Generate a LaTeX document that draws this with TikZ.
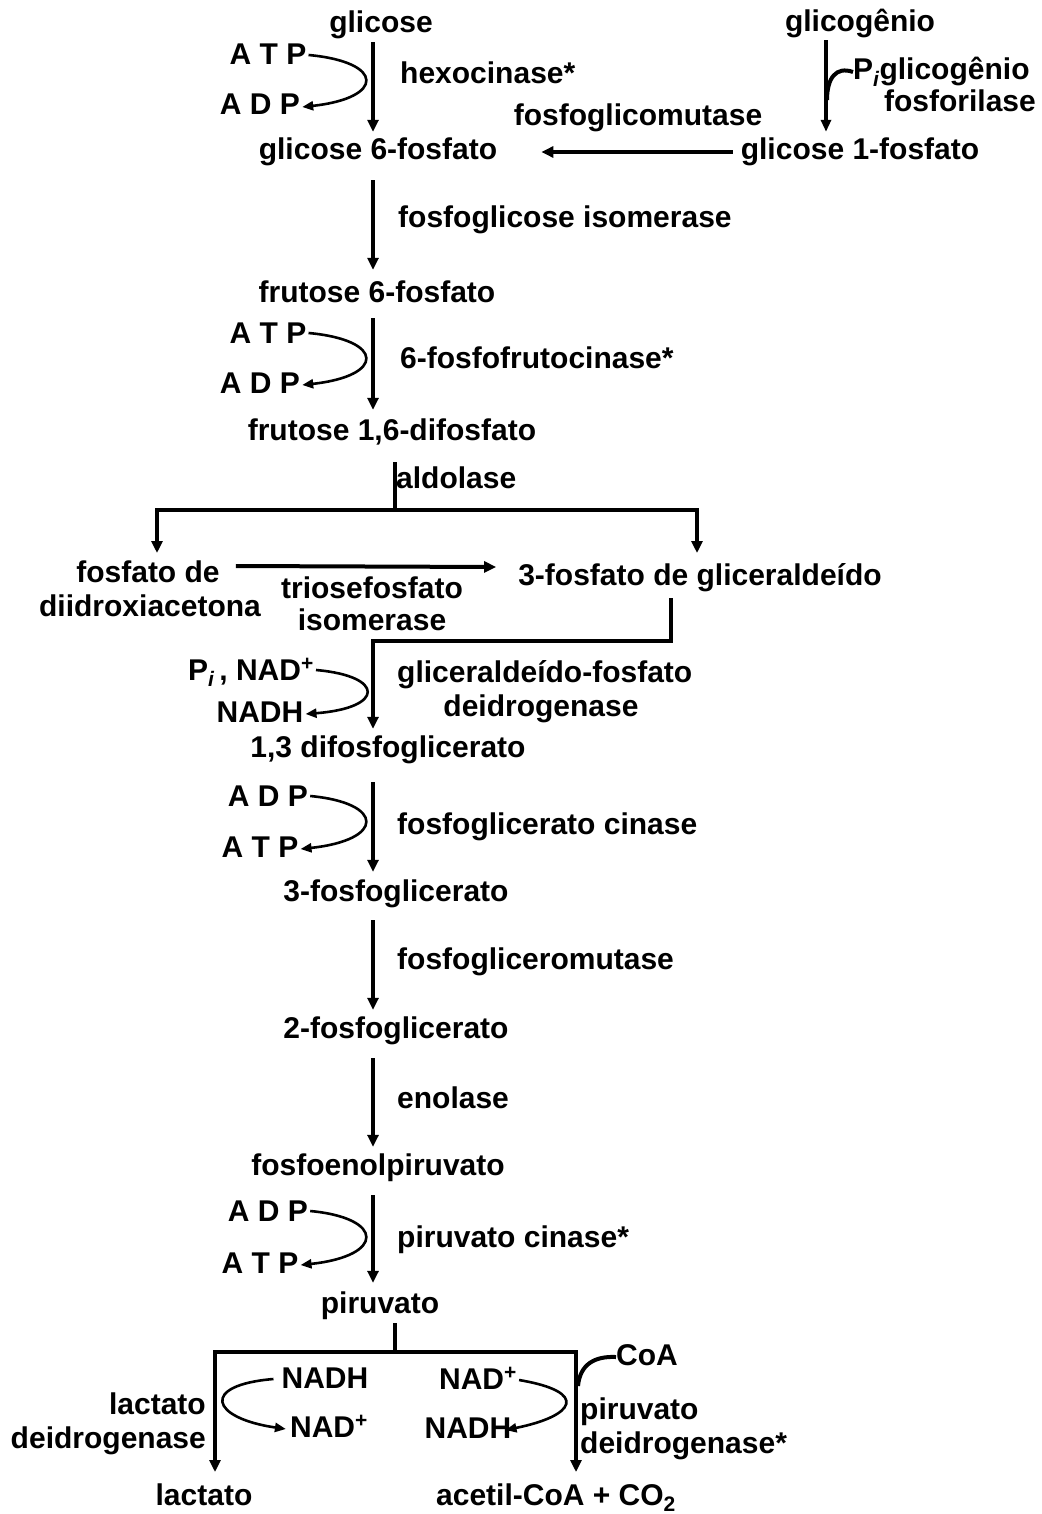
\documentclass[tikz,border=0pt]{standalone}
\usepackage{fontspec}
\setmainfont{Liberation Sans}
\usetikzlibrary{arrows.meta}
\begin{document}
\begin{tikzpicture}[x=1pt,y=-1pt,
  lbl/.style={font=\fontsize{30}{34}\selectfont\bfseries, inner sep=0pt, text height=22pt, text depth=6pt},
  enz/.style={lbl, anchor=west},
  arr/.style={line width=4pt, -{Triangle[length=12pt,width=11pt]}},
  ln/.style={line width=4pt},
  cur/.style={line width=2.6pt, -{Triangle[length=11pt,width=9pt]}}]
\useasboundingbox (0,0) rectangle (1041,1514);
\coordinate (ax) at (373,0);

% glucose
\node[lbl] (glc) at (381,25) {glicose};
\node[lbl] (g6p) at (378,152) {glicose 6-fosfato};
\node[lbl] (atp1) at (268,57) {A T P};
\node[lbl] (adp1) at (260,107) {A D P};
\node[enz] (hex) at (400,76) {hexocinase*};
\draw[arr] (glc.south -| ax) ++(0,3) -- ([yshift=6pt]g6p.north -| ax);
\draw[cur] (atp1.east) ++(2,-2) .. controls (385,62) and (385,98) .. ([xshift=2pt]adp1.east);

% glycogen
\node[lbl] (gly) at (860,24) {glicogênio};
\node[lbl] (g1p) at (860,152) {glicose 1-fosfato};
\node[lbl, anchor=west] (pi1) at (853,72) {P\textsubscript{\itshape i}glicogênio};
\node[lbl, anchor=east] (fos) at (1036,104) {fosforilase};
\coordinate (gx) at (826,0);
\draw[line width=3.5pt, -{Triangle[length=12pt,width=10pt]}] (gly.south -| gx) ++(0,2) -- ([yshift=6pt]g1p.north -| gx);
\draw[ln] (827,100) .. controls (827,78) and (836,66) .. (pi1.west);
\node[lbl] (pgm) at (638,118) {fosfoglicomutase};
\draw[arr] ([xshift=-8pt]g1p.west) -- ([xshift=44pt]g6p.east);

% isomerase
\node[lbl] (f6p) at (377,294) {frutose 6-fosfato};
\node[enz] (pgi) at (398,220) {fosfoglicose isomerase};
\draw[arr] (g6p.south -| ax) ++(0,14) -- ([yshift=10pt]f6p.north -| ax);

% PFK
\node[lbl] (f16) at (392,432) {frutose 1,6-difosfato};
\node[lbl] (atp2) at (268,335) {A T P};
\node[lbl] (adp2) at (260,385) {A D P};
\node[enz] (pfk) at (400,360) {6-fosfofrutocinase*};
\draw[arr] (f6p.south -| ax) ++(0,10) -- ([yshift=8pt]f16.north -| ax);
\draw[cur] (atp2.east) ++(2,-2) .. controls (385,340) and (385,376) .. ([xshift=2pt]adp2.east);

% aldolase
\coordinate (alx) at (395,0);
\coordinate (split) at (395,510);
\coordinate (dl) at (157,553);
\coordinate (dr) at (697,553);
\node[enz] (ald) at (396,480) {aldolase};
\node[lbl] (dhap1) at (148,574) {fosfato de};
\node[lbl] (dhap2) at (150,608) {diidroxiacetona};
\node[lbl] (gap) at (700,577) {3-fosfato de gliceraldeído};
\draw[ln] (f16.south -| alx) ++(0,16) -- (split);
\draw[arr] (split) -| (dl);
\draw[arr] (split) -| (dr);
\node[lbl] (tpi1) at (372,590) {triosefosfato};
\node[lbl] (tpi2) at (372,622) {isomerase};
\draw[arr] ([xshift=16pt,yshift=8pt]dhap1.east) -- ([xshift=-22pt,yshift=10pt]gap.west);

% GAPDH
\node[lbl] (bpg) at (388,749) {1,3 difosfoglicerato};
\node[enz] (gapdh1) at (397,674) {gliceraldeído-fosfato};
\node[lbl] (gapdh2) at (541,708) {deidrogenase};
\node[lbl, anchor=east] (nad1) at (314,672) {P\textsubscript{\itshape i}\,, NAD\textsuperscript{+}};
\node[lbl] (nadh1) at (260,714) {NADH};
\draw[arr] (gap.south -| 671,0) ++(0,7) |- (373,641) -- ([yshift=6pt]bpg.north -| ax);
\draw[cur] (nad1.east) ++(2,-2) .. controls (385,676) and (385,708) .. ([xshift=2pt]nadh1.east);

% PGK
\node[lbl] (pg3) at (396,893) {3-fosfoglicerato};
\node[lbl] (adp3) at (268,798) {A D P};
\node[lbl] (atp3) at (260,849) {A T P};
\node[enz] (pgk) at (397,826) {fosfoglicerato cinase};
\draw[arr] (bpg.south -| ax) ++(0,19) -- ([yshift=7pt]pg3.north -| ax);
\draw[cur] (adp3.east) ++(2,-2) .. controls (385,803) and (385,840) .. ([xshift=2pt]atp3.east);

% PGM
\node[lbl] (pg2) at (396,1030) {2-fosfoglicerato};
\node[enz] (pgmu) at (397,961) {fosfogliceromutase};
\draw[arr] (pg3.south -| ax) ++(0,13) -- ([yshift=6pt]pg2.north -| ax);

% enolase
\node[lbl] (pep) at (378,1167) {fosfoenolpiruvato};
\node[enz] (eno) at (397,1100) {enolase};
\draw[arr] (pg2.south -| ax) ++(0,14) -- ([yshift=6pt]pep.north -| ax);

% PK
\node[lbl] (pyr) at (380,1305) {piruvato};
\node[lbl] (adp4) at (268,1213) {A D P};
\node[lbl] (atp4) at (260,1265) {A T P};
\node[enz] (pk) at (397,1239) {piruvato cinase*};
\draw[arr] (pep.south -| ax) ++(0,14) -- ([yshift=8pt]pyr.north -| ax);
\draw[cur] (adp4.east) ++(2,-2) .. controls (385,1218) and (385,1256) .. ([xshift=2pt]atp4.east);

% pyruvate branches
\coordinate (pj) at (395,1352);
\coordinate (ll) at (215,1472);
\coordinate (lr) at (576,1472);
\node[lbl, anchor=base] (lac) at (204,1505) {lactato};
\node[lbl, anchor=base] (acoa) at (556,1505) {acetil-CoA + CO\textsubscript{2}};
\draw[ln] (pyr.south -| pj) ++(0,4) -- (pj);
\draw[arr] (pj) -| (ll);
\draw[arr] (pj) -| (lr);
\node[lbl, anchor=east] (ldh1) at (206,1406) {lactato};
\node[lbl, anchor=east] (ldh2) at (206,1440) {deidrogenase};
\node[lbl] (nadh2) at (325,1380) {NADH};
\node[lbl] (nad2) at (329,1429) {NAD\textsuperscript{+}};
\draw[cur] (nadh2.west) ++(-8,-1) .. controls (200,1385) and (210,1418) .. ([xshift=-4pt]nad2.west);
\node[lbl] (nad3) at (478,1381) {NAD\textsuperscript{+}};
\node[lbl] (nadh3) at (468,1430) {NADH};
\draw[cur] (nad3.east) ++(2,-1) .. controls (590,1392) and (575,1416) .. ([xshift=-6pt]nadh3.east);
\node[lbl, anchor=west] (coa) at (616,1357) {CoA};
\draw[ln] (578,1386) .. controls (580,1364) and (595,1356) .. (coa.west);
\node[enz] (pdh1) at (580,1411) {piruvato};
\node[enz] (pdh2) at (580,1445) {deidrogenase*};
\end{tikzpicture}
\end{document}
